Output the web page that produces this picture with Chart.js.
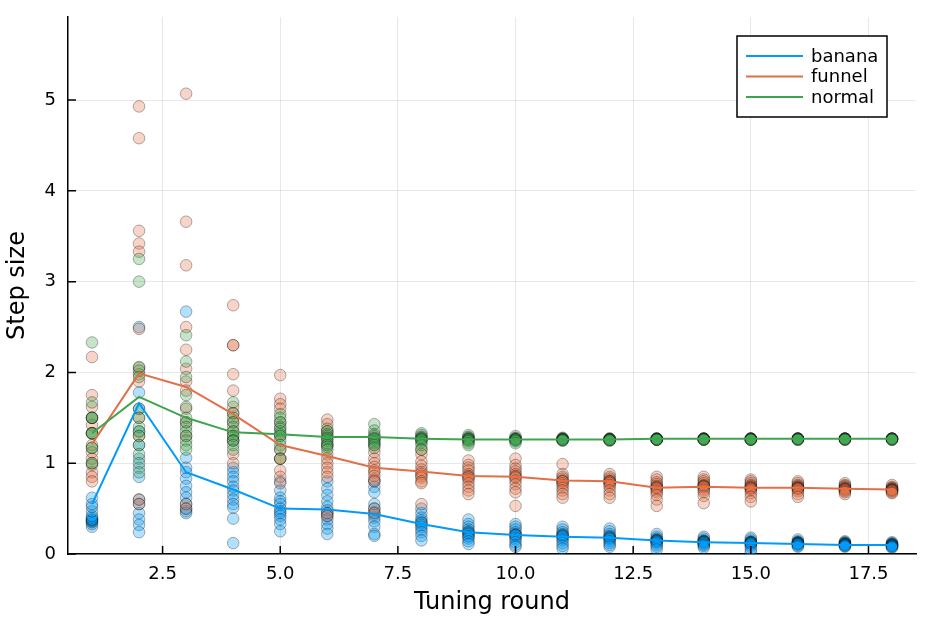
<!DOCTYPE html>
<html>
<head>
<meta charset="utf-8">
<title>Step size per tuning round</title>
<script src="https://cdn.jsdelivr.net/npm/chart.js@4.4.1/dist/chart.umd.min.js"></script>
<style>
  html, body { margin: 0; padding: 0; background: #ffffff; }
  canvas { display: block; }
</style>
</head>
<body>
<canvas id="chart" width="934" height="623"></canvas>
<script>
// Tuning rounds (x axis) and tick labels
const rounds = [1, 2, 3, 4, 5, 6, 7, 8, 9, 10, 11, 12, 13, 14, 15, 16, 17, 18];
const xTickValues = [2.5, 5.0, 7.5, 10.0, 12.5, 15.0, 17.5];
const yTickValues = [0, 1, 2, 3, 4, 5];

// Per-run step sizes, one inner array per tuning round
const bananaRuns = [
  [0.30, 0.33, 0.35, 0.36, 0.37, 0.38, 0.38, 0.40, 0.42, 0.47, 0.52, 0.55, 0.62],
  [2.50, 1.78, 1.60, 1.35, 1.20, 1.05, 0.95, 0.85, 0.60, 0.55, 0.45, 0.38, 0.32, 0.24],
  [2.67, 1.06, 0.95, 0.90, 0.83, 0.75, 0.68, 0.62, 0.55, 0.50, 0.47, 0.45],
  [0.95, 0.90, 0.85, 0.80, 0.74, 0.70, 0.65, 0.60, 0.55, 0.51, 0.39, 0.12],
  [0.80, 0.70, 0.62, 0.58, 0.55, 0.50, 0.47, 0.45, 0.42, 0.38, 0.33, 0.25],
  [0.80, 0.72, 0.65, 0.58, 0.52, 0.48, 0.45, 0.42, 0.38, 0.33, 0.28, 0.22],
  [0.80, 0.74, 0.68, 0.55, 0.50, 0.46, 0.43, 0.40, 0.36, 0.30, 0.22, 0.20],
  [0.50, 0.45, 0.40, 0.37, 0.35, 0.34, 0.32, 0.30, 0.27, 0.24, 0.20, 0.15],
  [0.38, 0.33, 0.30, 0.27, 0.25, 0.24, 0.23, 0.22, 0.20, 0.19, 0.17, 0.14, 0.11],
  [0.33, 0.30, 0.27, 0.24, 0.22, 0.21, 0.21, 0.20, 0.18, 0.16, 0.13, 0.10, 0.08],
  [0.30, 0.27, 0.24, 0.22, 0.21, 0.20, 0.20, 0.19, 0.17, 0.15, 0.12, 0.09, 0.06],
  [0.28, 0.25, 0.22, 0.20, 0.19, 0.18, 0.18, 0.17, 0.16, 0.14, 0.12, 0.10, 0.08],
  [0.22, 0.19, 0.17, 0.16, 0.15, 0.15, 0.15, 0.14, 0.14, 0.13, 0.12, 0.10, 0.08, 0.05],
  [0.19, 0.17, 0.15, 0.14, 0.14, 0.14, 0.13, 0.13, 0.13, 0.12, 0.11, 0.10, 0.09, 0.07],
  [0.18, 0.16, 0.14, 0.13, 0.13, 0.13, 0.12, 0.12, 0.12, 0.11, 0.10, 0.08, 0.05, 0.02],
  [0.16, 0.14, 0.13, 0.13, 0.12, 0.12, 0.12, 0.12, 0.11, 0.11, 0.11, 0.10, 0.09, 0.08],
  [0.14, 0.13, 0.12, 0.12, 0.11, 0.11, 0.11, 0.11, 0.10, 0.10, 0.10, 0.09, 0.09, 0.08],
  [0.13, 0.12, 0.11, 0.11, 0.10, 0.10, 0.10, 0.10, 0.09, 0.09, 0.09, 0.08, 0.08, 0.07]
];
const funnelRuns = [
  [2.17, 1.75, 1.62, 1.50, 1.42, 1.33, 1.20, 1.12, 1.05, 0.98, 0.90, 0.85, 0.80],
  [4.93, 4.58, 3.56, 3.42, 3.33, 2.48, 2.05, 1.98, 1.90, 1.50, 1.30, 0.60, 0.55],
  [5.07, 3.66, 3.18, 2.50, 2.25, 2.04, 1.90, 1.80, 1.60, 1.45, 1.30, 0.55, 0.50],
  [2.74, 2.30, 2.30, 1.98, 1.80, 1.62, 1.55, 1.45, 1.35, 1.25, 1.10, 1.00],
  [1.97, 1.71, 1.65, 1.60, 1.45, 1.30, 1.15, 1.05, 1.05, 0.92, 0.85, 0.78],
  [1.48, 1.43, 1.35, 1.20, 1.10, 1.05, 1.00, 0.95, 0.90, 0.85, 0.45, 0.42],
  [1.20, 1.12, 1.05, 1.00, 0.96, 0.92, 0.90, 0.86, 0.82, 0.80, 0.50, 0.45],
  [1.15, 1.10, 1.02, 0.97, 0.93, 0.90, 0.88, 0.86, 0.84, 0.80, 0.78, 0.55],
  [1.03, 0.98, 0.95, 0.92, 0.88, 0.86, 0.85, 0.84, 0.82, 0.78, 0.74, 0.70, 0.66],
  [1.05, 0.98, 0.94, 0.91, 0.88, 0.86, 0.85, 0.84, 0.81, 0.77, 0.72, 0.68, 0.53],
  [0.99, 0.88, 0.85, 0.83, 0.81, 0.80, 0.80, 0.78, 0.76, 0.73, 0.70, 0.66, 0.62],
  [0.88, 0.85, 0.83, 0.81, 0.80, 0.80, 0.79, 0.78, 0.76, 0.74, 0.70, 0.66, 0.62],
  [0.85, 0.82, 0.79, 0.77, 0.75, 0.74, 0.73, 0.73, 0.72, 0.70, 0.68, 0.65, 0.60, 0.53],
  [0.85, 0.82, 0.80, 0.78, 0.76, 0.75, 0.75, 0.74, 0.74, 0.72, 0.70, 0.68, 0.64, 0.56],
  [0.82, 0.80, 0.78, 0.76, 0.75, 0.74, 0.73, 0.73, 0.72, 0.72, 0.70, 0.67, 0.63, 0.58],
  [0.80, 0.78, 0.76, 0.75, 0.74, 0.73, 0.73, 0.73, 0.72, 0.72, 0.71, 0.69, 0.66, 0.63],
  [0.78, 0.76, 0.75, 0.74, 0.73, 0.72, 0.72, 0.72, 0.71, 0.71, 0.70, 0.69, 0.68, 0.66],
  [0.76, 0.74, 0.73, 0.72, 0.72, 0.71, 0.71, 0.71, 0.70, 0.70, 0.70, 0.69, 0.68, 0.67]
];
const normalRuns = [
  [2.33, 1.67, 1.50, 1.50, 1.50, 1.33, 1.33, 1.33, 1.17, 1.17, 1.00, 1.00],
  [3.25, 3.00, 2.06, 2.02, 1.95, 1.60, 1.50, 1.40, 1.35, 1.30, 1.20, 1.10, 1.00, 0.90],
  [2.41, 2.12, 1.95, 1.75, 1.62, 1.50, 1.45, 1.40, 1.35, 1.30, 1.25, 1.20, 1.15],
  [1.67, 1.55, 1.50, 1.45, 1.40, 1.35, 1.30, 1.30, 1.25, 1.25, 1.20, 1.15],
  [1.54, 1.50, 1.45, 1.40, 1.38, 1.35, 1.32, 1.30, 1.25, 1.20, 1.15, 1.05],
  [1.38, 1.35, 1.32, 1.30, 1.28, 1.27, 1.25, 1.22, 1.20, 1.18, 1.15],
  [1.43, 1.36, 1.32, 1.30, 1.28, 1.27, 1.26, 1.24, 1.22, 1.20, 1.17],
  [1.33, 1.31, 1.29, 1.28, 1.27, 1.27, 1.26, 1.25, 1.23, 1.20, 1.15],
  [1.31, 1.29, 1.28, 1.27, 1.27, 1.26, 1.26, 1.25, 1.24, 1.22, 1.20],
  [1.30, 1.28, 1.27, 1.27, 1.26, 1.26, 1.26, 1.25, 1.24, 1.22],
  [1.28, 1.27, 1.27, 1.27, 1.26, 1.26, 1.26, 1.26, 1.25, 1.25],
  [1.27, 1.27, 1.27, 1.26, 1.26, 1.26, 1.26, 1.26, 1.25, 1.25],
  [1.27, 1.27, 1.27, 1.27, 1.27, 1.26, 1.26, 1.26, 1.26, 1.26],
  [1.27, 1.27, 1.27, 1.27, 1.27, 1.27, 1.26, 1.26, 1.26, 1.26],
  [1.27, 1.27, 1.27, 1.27, 1.27, 1.27, 1.26, 1.26, 1.26, 1.26],
  [1.27, 1.27, 1.27, 1.27, 1.27, 1.27, 1.27, 1.26, 1.26, 1.26],
  [1.27, 1.27, 1.27, 1.27, 1.27, 1.27, 1.27, 1.26, 1.26, 1.26],
  [1.27, 1.27, 1.27, 1.27, 1.27, 1.27, 1.27, 1.26, 1.26, 1.26]
];

// Mean step size per round (the lines)
const bananaMean = [0.55, 1.66, 0.90, 0.71, 0.50, 0.49, 0.44, 0.33, 0.24, 0.21, 0.19, 0.18, 0.15, 0.13, 0.12, 0.11, 0.10, 0.10];
const funnelMean = [1.21, 1.99, 1.84, 1.54, 1.20, 1.08, 0.95, 0.91, 0.86, 0.85, 0.81, 0.80, 0.73, 0.74, 0.73, 0.73, 0.72, 0.71];
const normalMean = [1.33, 1.73, 1.50, 1.34, 1.32, 1.29, 1.29, 1.27, 1.26, 1.26, 1.26, 1.26, 1.27, 1.27, 1.27, 1.27, 1.27, 1.27];

const seriesNames = ["banana", "funnel", "normal"];

const FONT = "'DejaVu Sans', sans-serif";
const colors = {
  banana: [0, 154, 250],
  funnel: [227, 111, 71],
  normal: [62, 164, 78]
};
const rgba = (c, a) => `rgba(${c[0]}, ${c[1]}, ${c[2]}, ${a})`;

function runPoints(runs) {
  const pts = [];
  runs.forEach((vals, i) => {
    vals.forEach(v => pts.push({ x: rounds[i], y: v }));
  });
  return pts;
}

function meanPoints(means) {
  return means.map((v, i) => ({ x: rounds[i], y: v }));
}

const runsByName = { banana: bananaRuns, funnel: funnelRuns, normal: normalRuns };
const meansByName = { banana: bananaMean, funnel: funnelMean, normal: normalMean };

const datasets = [];
seriesNames.forEach((name, k) => {
  datasets.push({
    label: name + " runs",
    type: "scatter",
    data: runPoints(runsByName[name]),
    backgroundColor: rgba(colors[name], 0.3),
    borderColor: "rgba(0, 0, 0, 0.3)",
    borderWidth: 1,
    pointRadius: 5.8,
    pointHoverRadius: 5.8,
    order: 10 - k
  });
});
seriesNames.forEach((name, k) => {
  datasets.push({
    label: name,
    type: "line",
    data: meanPoints(meansByName[name]),
    borderColor: rgba(colors[name], 1),
    backgroundColor: rgba(colors[name], 1),
    borderWidth: 2,
    pointRadius: 0,
    tension: 0,
    fill: false,
    order: 3 - k
  });
});

// Inward tick marks, like the original plotting backend
const innerTicks = {
  id: "innerTicks",
  afterDraw(chart) {
    const { ctx, chartArea, scales } = chart;
    ctx.save();
    ctx.strokeStyle = "#000000";
    ctx.lineWidth = 1.5;
    ctx.beginPath();
    xTickValues.forEach(v => {
      const px = scales.x.getPixelForValue(v);
      ctx.moveTo(px, chartArea.bottom);
      ctx.lineTo(px, chartArea.bottom - 8);
    });
    yTickValues.forEach(v => {
      const py = scales.y.getPixelForValue(v);
      ctx.moveTo(chartArea.left, py);
      ctx.lineTo(chartArea.left + 8, py);
    });
    ctx.stroke();
    ctx.restore();
  }
};

// Legend box in the top right corner of the plot area
const boxLegend = {
  id: "boxLegend",
  afterDatasetsDraw(chart) {
    const { ctx, chartArea } = chart;
    const w = 150, h = 81;
    const x0 = chartArea.right - 29 - w;
    const y0 = chartArea.top + 19;
    ctx.save();
    ctx.fillStyle = "#ffffff";
    ctx.fillRect(x0, y0, w, h);
    ctx.strokeStyle = "#000000";
    ctx.lineWidth = 1.5;
    ctx.strokeRect(x0, y0, w, h);
    ctx.font = "18px " + FONT;
    ctx.textBaseline = "middle";
    ctx.textAlign = "left";
    seriesNames.forEach((name, i) => {
      const y = y0 + 20 + i * 20.5;
      ctx.strokeStyle = rgba(colors[name], 1);
      ctx.lineWidth = 2;
      ctx.beginPath();
      ctx.moveTo(x0 + 9, y);
      ctx.lineTo(x0 + 66, y);
      ctx.stroke();
      ctx.fillStyle = "#000000";
      ctx.fillText(name, x0 + 74, y + 1);
    });
    ctx.restore();
  }
};

new Chart(document.getElementById("chart").getContext("2d"), {
  type: "scatter",
  data: { datasets },
  options: {
    responsive: false,
    animation: false,
    devicePixelRatio: 1,
    layout: { padding: { left: 3, top: 17, right: 18, bottom: 6 } },
    plugins: {
      legend: { display: false },
      tooltip: { enabled: false }
    },
    scales: {
      x: {
        type: "linear",
        min: 0.49,
        max: 18.51,
        afterFit(scale) {
          scale.height = 63;
          scale.paddingLeft = 0;
          scale.paddingRight = 0;
        },
        afterBuildTicks(scale) { scale.ticks = xTickValues.map(v => ({ value: v })); },
        grid: { color: "rgba(0, 0, 0, 0.09)", lineWidth: 1, drawTicks: false },
        border: { display: true, color: "#000000", width: 1.5 },
        ticks: {
          color: "#000000",
          padding: 10,
          maxRotation: 0,
          font: { family: FONT, size: 18 },
          callback: v => v.toFixed(1)
        },
        title: {
          display: true,
          text: "Tuning round",
          color: "#000000",
          padding: 0,
          font: { family: FONT, size: 24 }
        }
      },
      y: {
        type: "linear",
        min: 0,
        max: 5.915,
        afterFit(scale) {
          scale.width = 65;
          scale.paddingTop = 0;
          scale.paddingBottom = 0;
        },
        afterBuildTicks(scale) { scale.ticks = yTickValues.map(v => ({ value: v })); },
        grid: { color: "rgba(0, 0, 0, 0.09)", lineWidth: 1, drawTicks: false },
        border: { display: true, color: "#000000", width: 1.5 },
        ticks: {
          color: "#000000",
          padding: 12,
          font: { family: FONT, size: 18 },
          callback: v => String(v)
        },
        title: {
          display: true,
          text: "Step size",
          color: "#000000",
          padding: 0,
          font: { family: FONT, size: 24 }
        }
      }
    }
  },
  plugins: [innerTicks, boxLegend]
});
</script>
</body>
</html>
